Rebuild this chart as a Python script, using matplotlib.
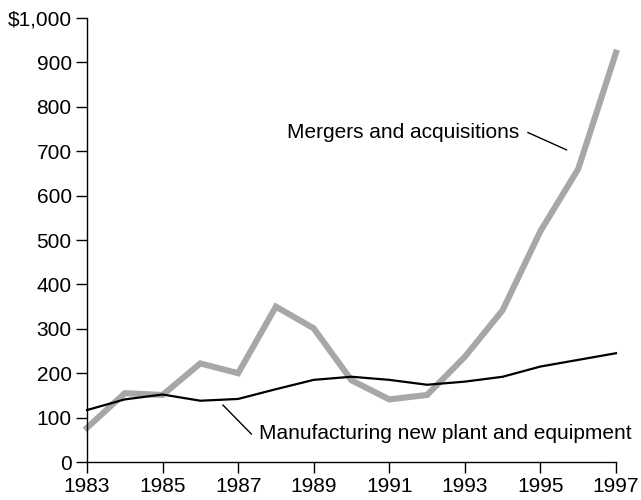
import matplotlib
matplotlib.use("Agg")
import matplotlib.pyplot as plt

years = list(range(1983, 1998))
mergers = [77, 155, 151, 222, 200, 350, 301, 184, 141, 151, 237, 342, 520, 660, 922]
manufacturing = [117, 141, 152, 138, 142, 164, 185, 192, 185, 174, 181, 192, 215, 230, 245]
xticks = [1983, 1985, 1987, 1989, 1991, 1993, 1995, 1997]
yticks = [0, 100, 200, 300, 400, 500, 600, 700, 800, 900, 1000]
ytick_labels = ["0", "100", "200", "300", "400", "500", "600", "700", "800", "900", "$1,000"]

plt.rcParams['font.family'] = ['Liberation Sans', 'DejaVu Sans']

fig = plt.figure(figsize=(6.41, 5.0), dpi=100)
ax = fig.add_axes([87/641, 1-462/500, (616-87)/641, (462-18)/500])

ax.plot(years, mergers, color='#a7a7a9', lw=4.4, solid_joinstyle='miter', clip_on=False, zorder=2)
ax.plot(years, manufacturing, color='black', lw=1.6, clip_on=False, zorder=3)

ax.set_xlim(1983, 1997)
ax.set_ylim(0, 1000)
ax.set_xticks(xticks)
ax.set_xticklabels([str(x) for x in xticks])
ax.set_yticks(yticks)
ax.set_yticklabels(ytick_labels)
ax.tick_params(direction='out', length=8, width=1, labelsize=15, pad=3)
for s in ['top', 'right']:
    ax.spines[s].set_visible(False)
for s in ['left', 'bottom']:
    ax.spines[s].set_linewidth(1)

ax.text(1988.29, 741, "Mergers and acquisitions", fontsize=15, ha='left', va='center')
ax.plot([1994.67, 1995.69], [742, 703], color='black', lw=1)
ax.text(1987.55, 65, "Manufacturing new plant and equipment", fontsize=15, ha='left', va='center',
        clip_on=False)
ax.plot([1986.6, 1987.35], [128, 63], color='black', lw=1)

fig.savefig("out.png", dpi=100)
